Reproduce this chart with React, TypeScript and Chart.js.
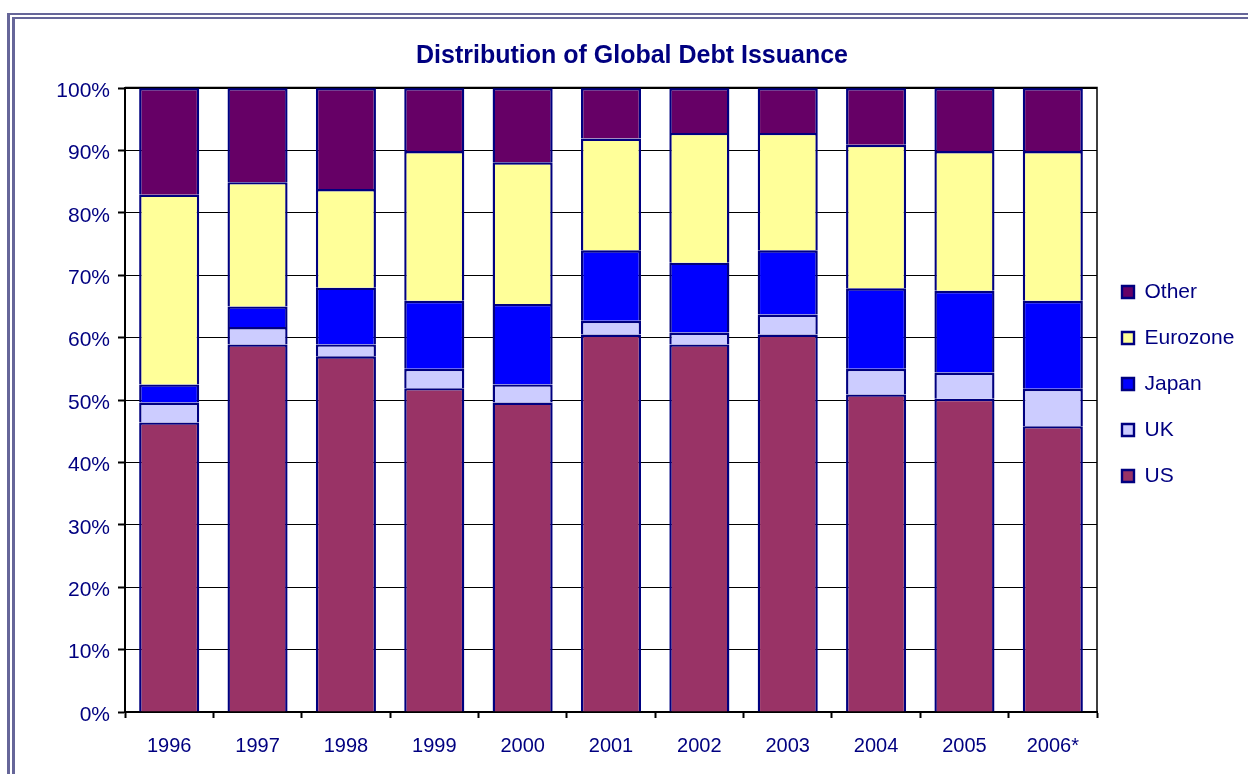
import { useEffect, useRef } from 'react';
import { Chart, registerables } from 'chart.js';

Chart.register(...registerables);

const categories = ['1996', '1997', '1998', '1999', '2000', '2001', '2002', '2003', '2004', '2005', '2006*'];
const usValues = [46.4, 58.9, 57.0, 51.9, 49.6, 60.5, 58.9, 60.5, 50.9, 50.2, 45.8];
const ukValues = [3.2, 2.8, 1.9, 3.1, 2.9, 2.2, 1.9, 3.2, 4.1, 4.2, 6.0];
const japanValues = [2.9, 3.3, 9.1, 10.9, 12.9, 11.3, 11.2, 10.3, 12.9, 13.1, 14.1];
const eurozoneValues = [30.4, 19.9, 15.8, 24.0, 22.7, 17.9, 20.8, 18.8, 23.0, 22.4, 24.0];
const otherValues = [17.1, 15.1, 16.2, 10.1, 11.9, 8.1, 7.2, 7.2, 9.1, 10.1, 10.1];
const seriesNames = ['US', 'UK', 'Japan', 'Eurozone', 'Other'];
const seriesColors = ['#993366', '#CCCCFF', '#0000FF', '#FFFF99', '#660066'];
const chartTitle = 'Distribution of Global Debt Issuance';

const NAVY = '#000080';
const FONT = "'Liberation Sans', Arial, Helvetica, sans-serif";
const Y_TICK_FONT = 21;
const X_TICK_FONT = 20;
const LEGEND_FONT = 21;
const TITLE_FONT = 25;

const plotBorder = {
  id: 'plotBorder',
  afterDatasetsDraw(chart: any) {
    const { ctx, chartArea } = chart;
    ctx.save();
    ctx.strokeStyle = '#000000';
    ctx.lineWidth = 1.5;
    ctx.beginPath();
    ctx.moveTo(chartArea.left, chartArea.top - 0.5);
    ctx.lineTo(chartArea.right, chartArea.top - 0.5);
    ctx.lineTo(chartArea.right, chartArea.bottom);
    ctx.stroke();
    ctx.restore();
  },
};

export default function App() {
  const ref = useRef<HTMLCanvasElement>(null);

  useEffect(() => {
    const canvas = ref.current!;
    const mctx = canvas.getContext('2d')!;
    mctx.font = `${LEGEND_FONT}px ${FONT}`;
    const maxLabel = Math.max(...seriesNames.map((n) => mctx.measureText(n).width));
    const legendPad = 25;
    const boxW = 12;
    const legendWidth = legendPad + boxW + LEGEND_FONT / 2 + maxLabel + 10;
    const padRight = Math.max(0, 1248 - 1097 - legendWidth);
    const padLeft = 16 + padRight;
    const padBottom = 6;

    const datasetsValues = [usValues, ukValues, japanValues, eurozoneValues, otherValues];

    const chart = new Chart(canvas, {
      type: 'bar',
      data: {
        labels: categories,
        datasets: datasetsValues.map((vals, i) => ({
          label: seriesNames[i],
          data: vals,
          backgroundColor: seriesColors[i],
          borderColor: NAVY,
          borderWidth: 2.4,
          borderSkipped: 'start',
          barPercentage: 0.68,
          categoryPercentage: 1,
        })),
      },
      options: {
        responsive: false,
        animation: false,
        devicePixelRatio: 1,
        layout: { padding: { left: padLeft, right: padRight, top: 0, bottom: padBottom } },
        plugins: {
          tooltip: { enabled: false },
          title: {
            display: true,
            text: chartTitle,
            color: NAVY,
            font: { family: FONT, size: TITLE_FONT, weight: 'bold', lineHeight: 1 },
            padding: { top: 44, bottom: 19 },
          },
          legend: {
            display: true,
            position: 'right',
            reverse: true,
            labels: {
              color: NAVY,
              font: { family: FONT, size: LEGEND_FONT },
              boxWidth: boxW,
              boxHeight: boxW,
              padding: legendPad,
            },
          },
        },
        scales: {
          x: {
            stacked: true,
            offset: true,
            grid: {
              display: true,
              offset: true,
              drawOnChartArea: false,
              drawTicks: true,
              tickLength: 6,
              tickWidth: 2,
              tickColor: '#000000',
              color: '#000000',
            },
            border: { display: true, color: '#000000', width: 2 },
            ticks: {
              color: NAVY,
              font: { family: FONT, size: X_TICK_FONT },
              padding: 16,
              maxRotation: 0,
              autoSkip: false,
            },
            afterFit(scale: any) {
              scale.height = 774 - 712 - padBottom;
            },
          },
          y: {
            stacked: true,
            min: 0,
            max: 100,
            grid: {
              color: '#000000',
              lineWidth: 1,
              drawTicks: true,
              tickLength: 7,
              tickWidth: 2,
              tickColor: '#000000',
            },
            border: { display: true, color: '#000000', width: 2 },
            ticks: {
              stepSize: 10,
              color: NAVY,
              font: { family: FONT, size: Y_TICK_FONT },
              padding: 8,
              labelOffset: 3,
              callback: (v: any) => `${v}%`,
            },
            afterFit(scale: any) {
              scale.width = 125 - padLeft;
            },
          },
        },
      },
      plugins: [plotBorder],
    });
    return () => chart.destroy();
  }, []);

  return (
    <div
      style={{
        position: 'fixed',
        left: 0,
        top: 0,
        width: 1248,
        height: 774,
        overflow: 'hidden',
        background: '#ffffff',
      }}
    >
      <div
        style={{
          position: 'absolute',
          left: 7,
          top: 13,
          width: 1400,
          height: 1000,
          borderLeft: '8px double #666699',
          borderTop: '6px double #666699',
          boxSizing: 'border-box',
        }}
      />
      <canvas
        ref={ref}
        width={1248}
        height={774}
        style={{ position: 'absolute', left: 0, top: 0, display: 'block' }}
      />
    </div>
  );
}
